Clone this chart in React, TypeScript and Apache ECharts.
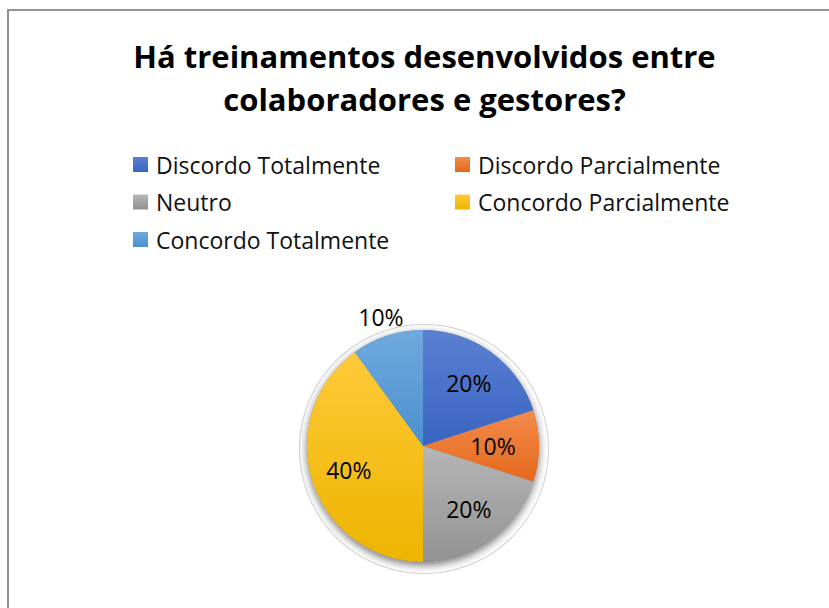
import React, { useEffect, useRef } from 'react';
import * as echarts from 'echarts';

const titleLines = ['Há treinamentos desenvolvidos entre', 'colaboradores e gestores?'];
const categories = ['Discordo Totalmente', 'Discordo Parcialmente', 'Neutro', 'Concordo Parcialmente', 'Concordo Totalmente'];
const values = [20, 10, 20, 40, 10];
const legendColumn1 = ['Discordo Totalmente', 'Neutro', 'Concordo Totalmente'];
const legendColumn2 = ['Discordo Parcialmente', 'Concordo Parcialmente'];
const sliceColors: [string, string][] = [
  ['#5b80d1', '#3864c2'],
  ['#f38c4c', '#e4681b'],
  ['#b6b6b6', '#929292'],
  ['#ffca38', '#edb400'],
  ['#70a9dd', '#4a90d1'],
];

const FONT = 'Open Sans';
const CX = 423;
const CY = 446;
const R = 116;

export default function App() {
  const ref = useRef<HTMLDivElement>(null);
  useEffect(() => {
    if (!ref.current) return;
    const chart = echarts.init(ref.current, undefined, { renderer: 'svg' });
    const grad = (c: [string, string]) =>
      new echarts.graphic.LinearGradient(0, 0, 0, 1, [
        { offset: 0, color: c[0] },
        { offset: 1, color: c[1] },
      ]);
    const legendBase = {
      orient: 'vertical' as const,
      icon: 'rect',
      itemWidth: 15,
      itemHeight: 15,
      itemGap: 13.5,
      selectedMode: false,
      textStyle: { fontFamily: FONT, fontSize: 23, color: '#111', lineHeight: 24, padding: [0, 0, 0, 3] },
    };
    chart.setOption({
      animation: false,
      backgroundColor: '#fff',
      title: {
        text: titleLines.join('\n'),
        left: 419.5,
        top: 29.5,
        textAlign: 'center',
        textStyle: { fontFamily: FONT, fontSize: 31, fontWeight: 'bold', color: '#000', lineHeight: 43 },
      },
      legend: [
        { ...legendBase, left: 128, top: 147.5, data: legendColumn1 },
        { ...legendBase, left: 450, top: 147.5, data: legendColumn2 },
      ],
      series: [
        {
          type: 'pie',
          silent: true,
          z: 1,
          center: [CX + 1, CY + 3],
          radius: [124, 125],
          label: { show: false },
          labelLine: { show: false },
          itemStyle: { color: '#d2d2d2' },
          data: [{ name: 'ring', value: 1 }],
        },
        {
          type: 'pie',
          silent: true,
          z: 2,
          center: [CX, CY],
          radius: R,
          label: { show: false },
          labelLine: { show: false },
          itemStyle: { color: '#888', shadowBlur: 9, shadowOffsetY: 3, shadowColor: 'rgba(0,0,0,0.55)' },
          data: [{ name: 'shadow', value: 1 }],
        },
        {
          type: 'pie',
          z: 3,
          center: [CX, CY],
          radius: R,
          startAngle: 90,
          clockwise: true,
          label: {
            show: true,
            position: 'inside',
            formatter: '{d}%',
            fontFamily: FONT,
            fontSize: 23,
            color: '#000',
          },
          labelLine: { show: false },
          labelLayout: (p: any) => {
            const r = p.labelRect;
            const lx = r.x + r.width / 2;
            const ly = r.y + r.height / 2;
            const vx = lx - CX;
            const vy = ly - CY;
            const d = Math.hypot(vx, vy) || 1;
            const target = p.dataIndex === 4 ? 136 : p.dataIndex === 1 ? 70 : 78;
            return { dx: (vx / d) * (target - d), dy: (vy / d) * (target - d) };
          },
          data: categories.map((name, i) => ({
            name,
            value: values[i],
            itemStyle: { color: grad(sliceColors[i]) },
          })),
        },
      ],
    });
    return () => chart.dispose();
  }, []);
  return (
    <div style={{ position: 'fixed', left: 0, top: 0, width: 829, height: 608, overflow: 'hidden', background: '#fff' }}>
      <div ref={ref} style={{ position: 'absolute', left: 0, top: 0, width: 829, height: 608 }} />
      <div
        style={{
          position: 'absolute',
          left: 7,
          top: 9,
          width: 900,
          height: 700,
          border: '2px solid #939393',
          boxSizing: 'border-box',
          pointerEvents: 'none',
        }}
      />
    </div>
  );
}
